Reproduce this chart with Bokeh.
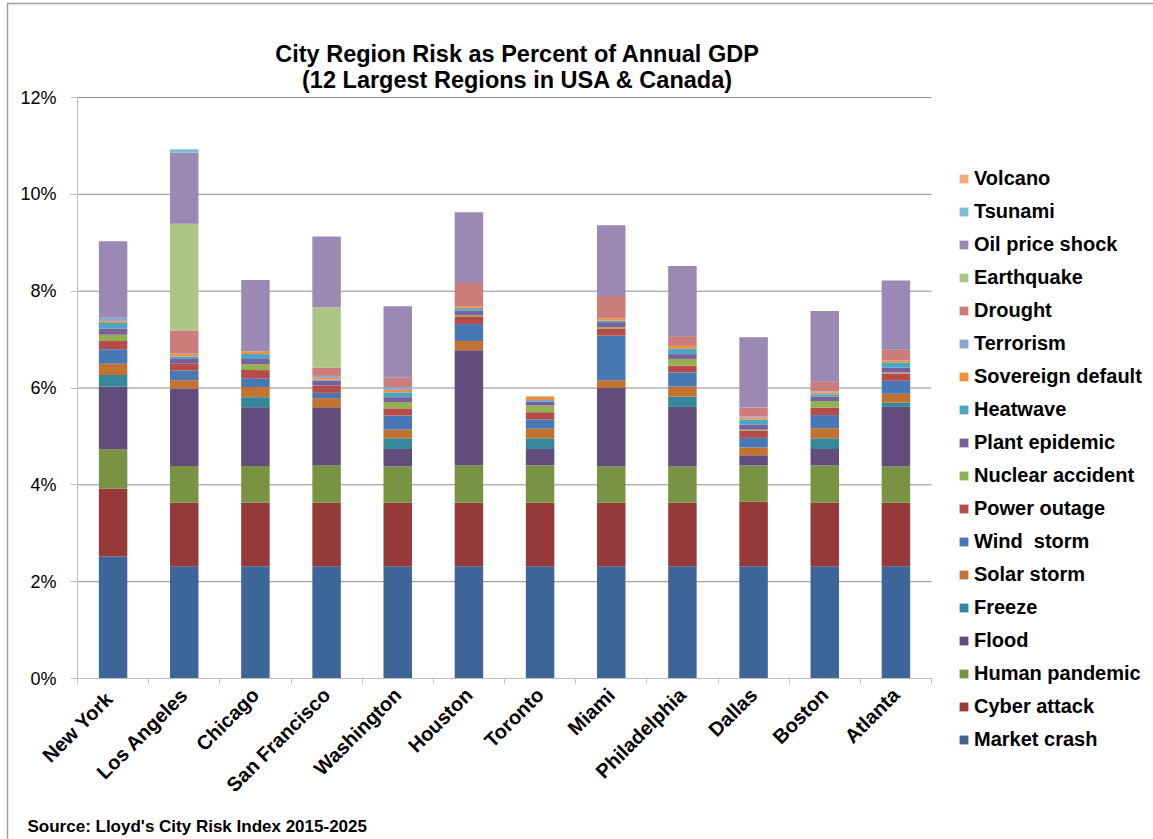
import math
import numpy as np
from bokeh.plotting import figure
from bokeh.models import (ColumnDataSource, FixedTicker, Legend, LegendItem,
                          Label, Range1d, PrintfTickFormatter, LinearAxis)
from bokeh.embed import file_html
from bokeh.resources import INLINE

# ---------------- data ----------------
cities = ["New  York", "Los Angeles", "Chicago", "San Francisco", "Washington",
          "Houston", "Toronto", "Miami", "Philadelphia", "Dallas", "Boston", "Atlanta"]

market_crash      = [2.52, 2.32, 2.32, 2.32, 2.32, 2.32, 2.32, 2.32, 2.32, 2.32, 2.32, 2.32]
cyber_attack      = [1.40, 1.31, 1.31, 1.31, 1.31, 1.31, 1.31, 1.31, 1.31, 1.33, 1.31, 1.31]
human_pandemic    = [0.81, 0.76, 0.76, 0.77, 0.75, 0.77, 0.77, 0.75, 0.75, 0.75, 0.77, 0.75]
flood             = [1.30, 1.60, 1.21, 1.20, 0.36, 2.38, 0.34, 1.62, 1.23, 0.21, 0.34, 1.23]
freeze            = [0.24, 0.00, 0.21, 0.00, 0.22, 0.00, 0.22, 0.00, 0.21, 0.00, 0.22, 0.09]
solar_storm       = [0.23, 0.17, 0.21, 0.19, 0.18, 0.19, 0.20, 0.16, 0.21, 0.16, 0.21, 0.18]
wind_storm        = [0.30, 0.20, 0.18, 0.11, 0.29, 0.35, 0.19, 0.92, 0.29, 0.20, 0.27, 0.27]
power_outage      = [0.17, 0.14, 0.17, 0.15, 0.15, 0.16, 0.15, 0.15, 0.14, 0.15, 0.15, 0.15]
nuclear_accident  = [0.13, 0.00, 0.12, 0.00, 0.13, 0.03, 0.14, 0.03, 0.14, 0.02, 0.14, 0.02]
plant_epidemic    = [0.13, 0.10, 0.11, 0.10, 0.10, 0.09, 0.08, 0.10, 0.10, 0.10, 0.09, 0.10]
heatwave          = [0.11, 0.05, 0.10, 0.02, 0.10, 0.05, 0.03, 0.03, 0.11, 0.11, 0.05, 0.11]
sovereign_default = [0.04, 0.05, 0.06, 0.04, 0.05, 0.04, 0.07, 0.05, 0.06, 0.04, 0.04, 0.04]
terrorism         = [0.07, 0.02, 0.00, 0.04, 0.06, 0.00, 0.01, 0.00, 0.00, 0.02, 0.02, 0.00]
drought           = [0.00, 0.47, 0.00, 0.17, 0.19, 0.48, 0.00, 0.46, 0.20, 0.19, 0.20, 0.22]
earthquake        = [0.00, 2.20, 0.00, 1.25, 0.00, 0.00, 0.00, 0.00, 0.00, 0.00, 0.00, 0.00]
oil_price_shock   = [1.58, 1.47, 1.47, 1.46, 1.48, 1.46, 0.00, 1.46, 1.45, 1.45, 1.46, 1.43]
tsunami           = [0.00, 0.07, 0.00, 0.00, 0.00, 0.00, 0.00, 0.00, 0.00, 0.00, 0.00, 0.00]
volcano           = [0.00, 0.00, 0.00, 0.00, 0.00, 0.00, 0.00, 0.00, 0.00, 0.00, 0.00, 0.00]

series_names = ["Market crash", "Cyber attack", "Human pandemic", "Flood", "Freeze",
                "Solar storm", "Wind  storm", "Power outage", "Nuclear accident",
                "Plant epidemic", "Heatwave", "Sovereign default", "Terrorism",
                "Drought", "Earthquake", "Oil price shock", "Tsunami", "Volcano"]
series_values = [market_crash, cyber_attack, human_pandemic, flood, freeze,
                 solar_storm, wind_storm, power_outage, nuclear_accident,
                 plant_epidemic, heatwave, sovereign_default, terrorism,
                 drought, earthquake, oil_price_shock, tsunami, volcano]
colors = ["#3E6597", "#953A38", "#789341", "#614C7C", "#35889A",
          "#C27330", "#4778B3", "#B64C49", "#93B152",
          "#7B5E9D", "#4AA6C1", "#F0903F", "#8AA6D3",
          "#CB7C7B", "#ADC685", "#9B89B3", "#7EBED6", "#F8AB7A"]

y_ticks = [0, 2, 4, 6, 8, 10, 12]
title_lines = ["City Region Risk as Percent of Annual GDP",
               "(12 Largest Regions in USA & Canada)"]
source_text = "Source: Lloyd's City Risk Index 2015-2025"

FONT = "Liberation Sans"

# ---------------- layout geometry (pixels) ----------------
W, H = 1153, 839
AX_LEFT, AX_RIGHT, AX_TOP, AX_BOTTOM = 77, 931, 97, 678
n = len(cities)
y_max = y_ticks[-1]
px_x = (AX_RIGHT - AX_LEFT) / n          # pixels per category
px_y = (AX_BOTTOM - AX_TOP) / y_max      # pixels per percent

def dx(px):   # canvas pixel x -> data x
    return (px - AX_LEFT) / px_x

def dy(py):   # canvas pixel y -> data y
    return (AX_BOTTOM - py) / px_y

centers = list(np.arange(n) + 0.5)
boundaries = list(np.arange(n + 1).astype(float))

data = {"x": centers}
keys = []
for i, vals in enumerate(series_values):
    k = f"s{i}"
    keys.append(k)
    data[k] = vals
src = ColumnDataSource(data)

p = figure(frame_width=W, frame_height=H,
           x_range=Range1d(dx(0), dx(W)), y_range=Range1d(dy(H), dy(0)),
           output_backend="svg", toolbar_location=None,
           x_axis_location=None, y_axis_location=None,
           min_border=0, min_border_left=0, min_border_right=0,
           min_border_top=0, min_border_bottom=0)
p.outline_line_color = None
p.background_fill_color = "white"
p.border_fill_color = "white"
p.grid.visible = False

# chart-area border (left and top edges, as in the reference)
p.line(x=[dx(7), dx(7), dx(W + 5)], y=[dy(H + 5), dy(3), dy(3)],
       line_color="#A0A0A0", line_width=1.5)

# horizontal gridlines across the plot area only
grid_src = ColumnDataSource({"y": y_ticks, "x0": [0] * len(y_ticks), "x1": [n] * len(y_ticks)})
p.segment(x0="x0", x1="x1", y0="y", y1="y", source=grid_src,
          line_color="#8C8C8C", line_width=1)

renderers = p.vbar_stack(keys, x="x", width=0.4, source=src,
                         color=colors, line_color=None)

# axes drawn at fixed locations
yaxis = LinearAxis(fixed_location=0, bounds=(0, y_max),
                   ticker=FixedTicker(ticks=y_ticks),
                   formatter=PrintfTickFormatter(format="%d%%"),
                   major_label_text_font=FONT, major_label_text_font_size="18px",
                   major_label_text_color="black",
                   major_tick_out=7, major_tick_in=0,
                   minor_tick_line_color=None,
                   axis_line_color="#BFBFBF", major_tick_line_color="#BFBFBF",
                   major_label_standoff=14)
p.add_layout(yaxis, "left")

xaxis = LinearAxis(fixed_location=0, bounds=(0, n),
                   ticker=FixedTicker(ticks=centers, minor_ticks=boundaries),
                   major_label_overrides={c: name for c, name in zip(centers, cities)},
                   major_label_orientation=math.pi / 4,
                   major_label_text_font=FONT, major_label_text_font_size="20px",
                   major_label_text_font_style="bold",
                   major_label_text_color="black",
                   major_tick_line_color=None, major_tick_out=0, major_tick_in=0,
                   minor_tick_out=5, minor_tick_in=0,
                   minor_tick_line_color="#BFBFBF",
                   axis_line_color="#BFBFBF",
                   major_label_standoff=8)
p.add_layout(xaxis, "below")

# legend (reverse order, top = last series)
items = [LegendItem(label=series_names[i], renderers=[renderers[i]])
         for i in range(len(series_names) - 1, -1, -1)]
legend = Legend(items=items, location=(958, H - 751),
                glyph_width=11, glyph_height=11, label_height=22,
                spacing=10, padding=0, margin=0, label_standoff=5,
                label_text_font=FONT, label_text_font_size="20px",
                label_text_font_style="bold",
                label_text_color="black",
                border_line_color=None, background_fill_alpha=0)
p.add_layout(legend, "center")

# titles and source
title_cx = dx(517)
p.add_layout(Label(x=title_cx, y=dy(53), text=title_lines[0], text_align="center",
                   text_baseline="alphabetic", text_font=FONT,
                   text_font_size="23.5px", text_font_style="bold",
                   text_color="black"))
p.add_layout(Label(x=title_cx, y=dy(79), text=title_lines[1], text_align="center",
                   text_baseline="alphabetic", text_font=FONT,
                   text_font_size="23.5px", text_font_style="bold",
                   text_color="black"))
p.add_layout(Label(x=dx(27), y=dy(826), text=source_text, text_align="left",
                   text_baseline="alphabetic", text_font=FONT,
                   text_font_size="17px", text_font_style="bold",
                   text_color="black"))

open("out.html", "w").write(file_html(p, INLINE))
